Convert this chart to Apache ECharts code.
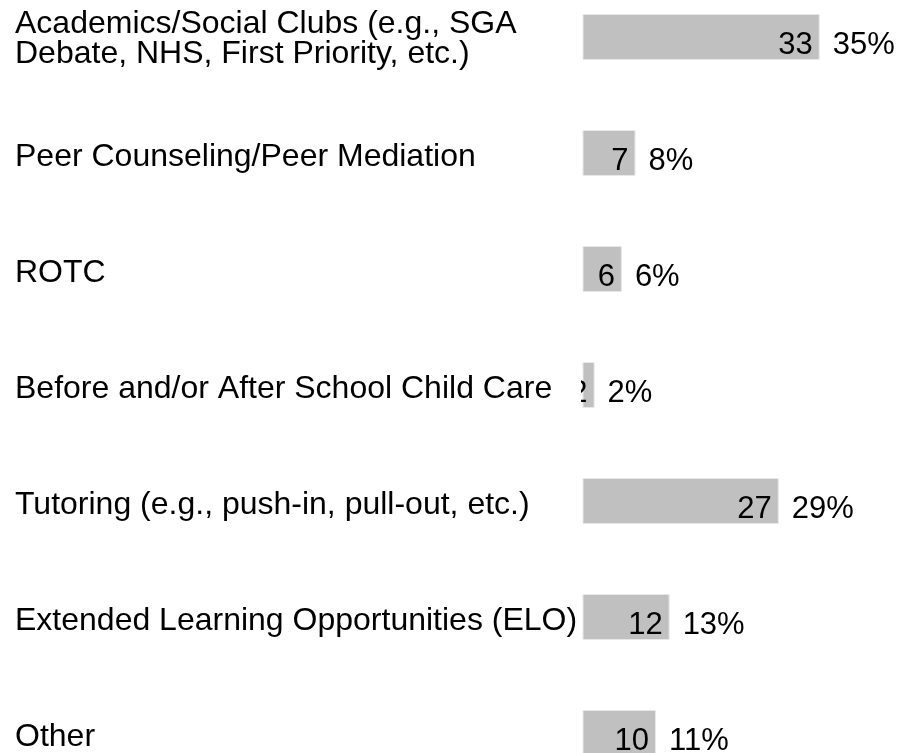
<!DOCTYPE html>
<html><head><meta charset="utf-8">
<script src="https://cdn.jsdelivr.net/npm/echarts@6/dist/echarts.min.js"></script>
<style>html,body{margin:0;padding:0;background:#fff}#c{width:900px;height:753px}</style>
</head><body><div id="c"></div>
<script>
const categories = [
  'Academics/Social Clubs (e.g., SGA\nDebate, NHS, First Priority, etc.)',
  'Peer Counseling/Peer Mediation',
  'ROTC',
  'Before and/or After School Child Care',
  'Tutoring (e.g., push-in, pull-out, etc.)',
  'Extended Learning Opportunities (ELO)',
  'Other'
];
const counts = [33, 7, 6, 2, 27, 12, 10];
const percents = [35, 8, 6, 2, 29, 13, 11];

const FONT = "'Liberation Sans', Arial, sans-serif";
const chart = echarts.init(document.getElementById('c'), null, {renderer: 'canvas'});
chart.setOption({
  animation: false,
  grid: {left: 583, top: -21, width: 339, height: 812, containLabel: false, outerBoundsMode: 'none'},
  xAxis: {type: 'value', min: 0.3, max: 50, show: false},
  yAxis: {
    type: 'category', inverse: true,
    data: categories.map(c => ({value: c, textStyle: {align: 'left', verticalAlign: 'middle'}})),
    axisLine: {show: false}, axisTick: {show: false}, splitLine: {show: false},
    axisLabel: {
      align: 'left', margin: 568, color: '#000', fontSize: 32, fontFamily: FONT, lineHeight: 30,
      formatter: v => v.indexOf('\n') >= 0
        ? v.split('\n').map(l => '{m|' + l + '}').join('\n')
        : '{s|' + v + '}',
      rich: {
        s: {padding: [9, 0, 0, 0], lineHeight: 30, fontSize: 32, fontFamily: FONT, color: '#000'},
        m: {padding: [5, 0, 0, 0], lineHeight: 30, fontSize: 32, fontFamily: FONT, color: '#000'}
      }
    }
  },
  series: [
    {
      type: 'bar', data: percents, barWidth: 46,
      itemStyle: {color: '#c0c0c0', borderColor: '#e8e8e8', borderWidth: 1},
      label: {show: true, position: 'right', distance: 13, offset: [0, 8],
        formatter: p => p.value + '%', color: '#000', fontSize: 31, fontFamily: FONT}
    },
    {
      type: 'custom', coordinateSystem: 'cartesian2d',
      data: percents.map((v, i) => [v, i, counts[i]]),
      encode: {x: 0, y: 1},
      z: 10,
      renderItem: function (params, api) {
        const pt = api.coord([api.value(0), api.value(1)]);
        const tx = pt[0] - 7;
        const clipLeft = params.coordSys.x - 2;
        return {
          type: 'text', x: tx, y: pt[1] + 8,
          clipPath: {type: 'rect', shape: {x: clipLeft - tx, y: -40, width: tx - clipLeft + 40, height: 80}},
          style: {text: String(api.value(2)), align: 'right', verticalAlign: 'middle',
            fill: '#000', fontSize: 31, fontFamily: FONT}
        };
      }
    }
  ]
});
</script></body></html>
